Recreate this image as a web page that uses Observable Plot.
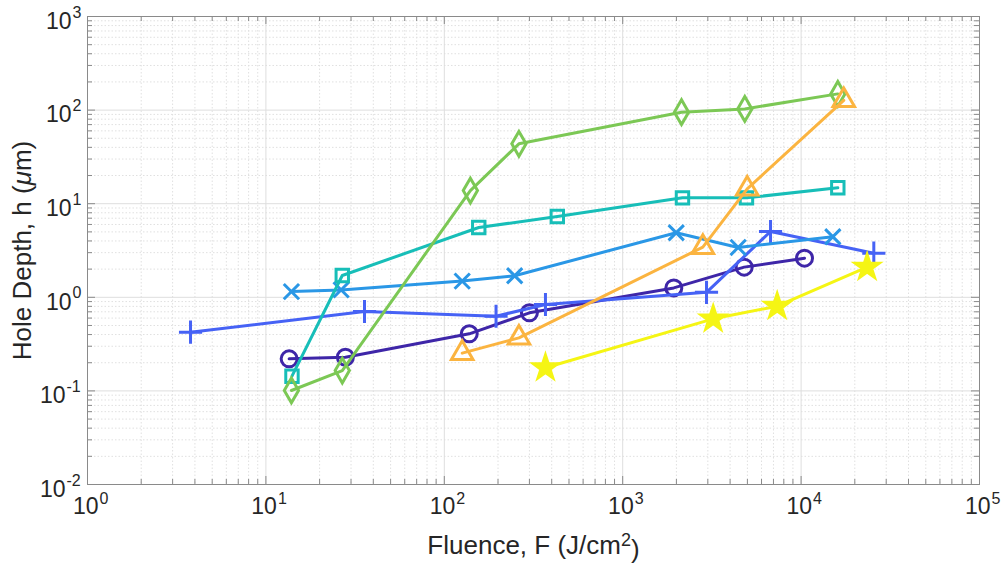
<!DOCTYPE html>
<html><head><meta charset="utf-8">
<script src="https://cdn.jsdelivr.net/npm/d3@7"></script>
<script src="https://cdn.jsdelivr.net/npm/@observablehq/plot@0.6"></script>
<style>body{margin:0;background:#fff;} #chart{width:1001px;height:571px;}</style>
</head><body><div id="chart"></div>
<script>
// ---- data ----
const seriesNames = ["circle", "plus", "times", "square", "diamond", "triangle", "star"];
const seriesColors = ["#3E26A8", "#4662F5", "#2A97E6", "#17BEB8", "#7CC855", "#FBB440", "#F5F514"];

const circleF = [13.5, 27.9, 138, 300, 1934, 4797, 10450];
const circleH = [0.220, 0.229, 0.407, 0.683, 1.26, 2.10, 2.62];

const plusF = [3.78, 35.7, 195, 369, 2950, 6740, 25560];
const plusH = [0.424, 0.705, 0.628, 0.838, 1.13, 5.05, 2.96];

const timesF = [13.9, 26.4, 126, 248, 1995, 4440, 15060];
const timesH = [1.15, 1.20, 1.49, 1.70, 4.89, 3.41, 4.43];

const squareF = [14.0, 26.8, 156, 430, 2163, 4940, 16060];
const squareH = [0.1436, 1.71, 5.57, 7.30, 11.55, 11.55, 14.8];

const diamondF = [13.9, 26.8, 140, 262, 2136, 4835, 16060];
const diamondH = [0.101, 0.165, 13.8, 43.6, 95.0, 103, 149];

const triangleF = [126, 262, 2813, 4987, 17340];
const triangleH = [0.253, 0.369, 3.43, 14.4, 127];

const starF = [369, 3215, 7345, 23450];
const starH = [0.177, 0.589, 0.803, 2.10];

// ---- axes / ticks ----
const xTickValues = [1, 10, 100, 1000, 10000, 100000];
const xTickExps = ["0", "1", "2", "3", "4", "5"];
const yTickValues = [0.01, 0.1, 1, 10, 100, 1000];
const yTickExps = ["-2", "-1", "0", "1", "2", "3"];
const minorMultipliers = [2, 3, 4, 5, 6, 7, 8, 9];
const xTitle = "Fluence, F (J/cm2)";
const yTitle = "Hole Depth, h (\u03BCm)";

// ---- build tables ----
const seriesF = [circleF, plusF, timesF, squareF, diamondF, triangleF, starF];
const seriesH = [circleH, plusH, timesH, squareH, diamondH, triangleH, starH];
const markerR = {circle: 8, plus: 7.5, times: 7, square: 7, diamond: 7.5, triangle: 8, star: 7.5};
const series = seriesNames.map((name, i) => ({
  name, color: seriesColors[i],
  rows: seriesF[i].map((f, j) => ({s: name, F: f, h: seriesH[i][j]}))
}));
const xMinor = xTickValues.slice(0, -1).flatMap(d => minorMultipliers.map(m => d * m));
const yMinor = yTickValues.slice(0, -1).flatMap(d => minorMultipliers.map(m => d * m));
const xLab = xTickValues.map((v, i) => ({v, e: xTickExps[i]}));
const yLab = yTickValues.map((v, i) => ({v, e: yTickExps[i]}));

// ---- layout ----
const W = 1001, H = 571, mL = 87, mR = 22, mT = 16, mB = 87;
const iW = W - mL - mR, iH = H - mT - mB;
const axisColor = "#8a8a8a", textColor = "#262626";
const majT = 8, minT = 5;
const tickFS = 23, expFS = 16, titleFS = 26;

const seriesMarks = series.flatMap(sr => [
  Plot.line(sr.rows, {x: "F", y: "h", stroke: sr.color, strokeWidth: 3}),
  Plot.dot(sr.rows, {x: "F", y: "h", symbol: sr.name, r: markerR[sr.name],
    stroke: sr.color, strokeWidth: 3, fill: sr.name === "star" ? sr.color : "none"})
]);

const chart = Plot.plot({
  width: W, height: H,
  marginLeft: mL, marginRight: mR, marginTop: mT, marginBottom: mB,
  style: {fontFamily: "'Liberation Sans', Arial, sans-serif", background: "#fff", color: textColor},
  x: {type: "log", domain: [1, 100000], axis: null},
  y: {type: "log", domain: [0.01, 1000], axis: null},
  marks: [
    // minor grid
    Plot.ruleX(xMinor, {x: d => d, stroke: "#e0e0e0", strokeDasharray: "1.5,2"}),
    Plot.ruleY(yMinor, {y: d => d, stroke: "#e0e0e0", strokeDasharray: "1.5,2"}),
    // major grid
    Plot.ruleX(xTickValues, {x: d => d, stroke: "#dedede"}),
    Plot.ruleY(yTickValues, {y: d => d, stroke: "#dedede"}),
    // inward ticks
    Plot.ruleX(xTickValues, {x: d => d, stroke: axisColor, insetTop: iH - majT}),
    Plot.ruleX(xTickValues, {x: d => d, stroke: axisColor, insetBottom: iH - majT}),
    Plot.ruleX(xMinor, {x: d => d, stroke: axisColor, insetTop: iH - minT}),
    Plot.ruleX(xMinor, {x: d => d, stroke: axisColor, insetBottom: iH - minT}),
    Plot.ruleY(yTickValues, {y: d => d, stroke: axisColor, insetRight: iW - majT}),
    Plot.ruleY(yTickValues, {y: d => d, stroke: axisColor, insetLeft: iW - majT}),
    Plot.ruleY(yMinor, {y: d => d, stroke: axisColor, insetRight: iW - minT}),
    Plot.ruleY(yMinor, {y: d => d, stroke: axisColor, insetLeft: iW - minT}),
    ...seriesMarks,
    Plot.frame({stroke: axisColor}),
    // x tick labels
    Plot.text(xLab, {x: "v", frameAnchor: "bottom", text: () => "10", textAnchor: "end", dx: 11, dy: 29, fontSize: tickFS, fill: textColor}),
    Plot.text(xLab, {x: "v", frameAnchor: "bottom", text: "e", textAnchor: "start", dx: 12, dy: 19, fontSize: expFS, fill: textColor}),
    // y tick labels
    Plot.text(yLab.filter(d => !d.e.startsWith("-")), {y: "v", frameAnchor: "left", text: () => "10", textAnchor: "end", dx: -16, dy: 5, fontSize: tickFS, fill: textColor}),
    Plot.text(yLab.filter(d => d.e.startsWith("-")), {y: "v", frameAnchor: "left", text: () => "10", textAnchor: "end", dx: -22, dy: 5, fontSize: tickFS, fill: textColor}),
    Plot.text(yLab.filter(d => !d.e.startsWith("-")), {y: "v", frameAnchor: "left", text: "e", textAnchor: "start", dx: -15, dy: -4, fontSize: expFS, fill: textColor}),
    Plot.text(yLab.filter(d => d.e.startsWith("-")), {y: "v", frameAnchor: "left", text: "e", textAnchor: "start", dx: -21, dy: -4, fontSize: expFS, fill: textColor}),
    // axis titles
    Plot.text([xTitle], {frameAnchor: "bottom", text: d => d, textAnchor: "middle", dy: 69.5, fontSize: titleFS, fill: textColor}),
    Plot.text([yTitle], {frameAnchor: "left", text: d => d, textAnchor: "middle", dx: -65, rotate: -90, fontSize: titleFS, fill: textColor})
  ]
});
document.getElementById("chart").appendChild(chart);

// rich text for axis titles (superscript / italic mu)
const svg = d3.select(chart);
svg.selectAll("text").filter(function () { return this.textContent === xTitle; }).each(function () {
  const t = d3.select(this).attr("text-anchor", "middle"); t.text(null);
  t.append("tspan").text("Fluence, F (J/cm");
  t.append("tspan").attr("dy", "-0.45em").attr("font-size", 18).text("2");
  t.append("tspan").attr("dy", "0.45em").text(")");
});
svg.selectAll("text").filter(function () { return this.textContent === yTitle; }).each(function () {
  const t = d3.select(this).attr("text-anchor", "middle"); t.text(null);
  t.append("tspan").text("Hole Depth, h (");
  t.append("tspan").attr("font-style", "italic").text("\u03BC");
  t.append("tspan").text("m)");
});
</script></body></html>
